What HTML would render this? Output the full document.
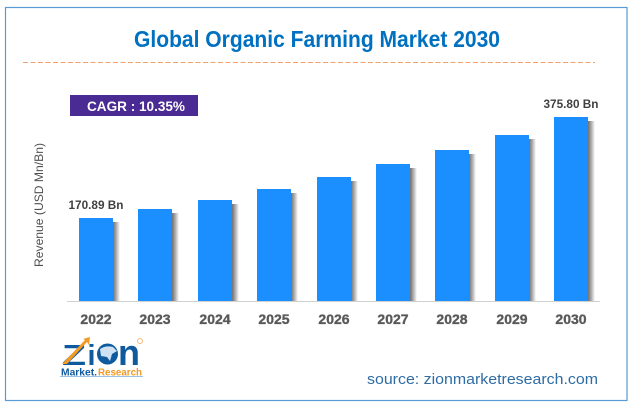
<!DOCTYPE html>
<html lang="en">
<head>
<meta charset="utf-8">
<title>Global Organic Farming Market 2030</title>
<style>
html,body{margin:0;padding:0;background:#fff;width:634px;height:405px;overflow:hidden}
svg{display:block;font-family:"Liberation Sans",sans-serif}
</style>
</head>
<body>
<svg id="chart" width="634" height="405" viewBox="0 0 634 405" xmlns="http://www.w3.org/2000/svg">
  <defs>
    <linearGradient id="shadowGrad" x1="0" x2="1" y1="0" y2="0">
      <stop offset="0" stop-color="#6f6f6f"/>
      <stop offset="0.45" stop-color="#aaaaaa"/>
      <stop offset="1" stop-color="#ffffff"/>
    </linearGradient>
  </defs>
  <rect x="0" y="0" width="634" height="405" fill="#ffffff"/>
  <rect x="5.5" y="7.5" width="621.5" height="393" fill="none" stroke="#5b9bd5" stroke-width="1.2"/>
  <text x="317" y="47" text-anchor="middle" font-size="23" font-weight="700" fill="#0070c0" textLength="366" lengthAdjust="spacingAndGlyphs">Global Organic Farming Market 2030</text>
  <line x1="23" y1="62.5" x2="595" y2="62.5" stroke="#f4a06a" stroke-width="1" stroke-dasharray="5 2.5"/>
  <rect x="70" y="95" width="128" height="21" fill="#4a2a93"/>
  <text x="136" y="111" text-anchor="middle" font-size="14" font-weight="700" fill="#ffffff" textLength="98" lengthAdjust="spacingAndGlyphs">CAGR : 10.35%</text>
  <text transform="translate(43 205) rotate(-90)" text-anchor="middle" font-size="12" fill="#505050" textLength="124" lengthAdjust="spacingAndGlyphs">Revenue (USD Mn/Bn)</text>
  <g id="bars"></g>
  <line x1="67" y1="301.5" x2="600" y2="301.5" stroke="#d0d0d0" stroke-width="1"/>
  <g id="xlabels"></g>
  <g id="values"></g>

  <g>
    <text x="62" y="365" font-size="29" font-weight="700" fill="#0f5a9e" textLength="24" lengthAdjust="spacingAndGlyphs">Z</text>
    <polygon points="62,364 67,364 87,342 89,345 90,337 83,339 85,340" fill="#f39a25"/>
    <text x="87.5" y="365" font-size="29" font-weight="700" fill="#0f5a9e" textLength="8" lengthAdjust="spacingAndGlyphs">i</text>
    <circle cx="107.5" cy="354" r="10.5" fill="#0f5a9e"/>
    <path d="M100 349 q6 -4 13 -2 l4 4 -5 3 -2 7 -3 -4 -6 -1z" fill="#cfe2f3"/>
    <text x="118" y="365" font-size="36" font-weight="700" fill="#0f5a9e" textLength="22" lengthAdjust="spacingAndGlyphs">n</text>
    <circle cx="140" cy="341" r="2.5" fill="none" stroke="#f5b880" stroke-width="1"/>
    <text x="61" y="375.5" font-size="10.5" font-weight="700" fill="#0f5a9e" textLength="36" lengthAdjust="spacingAndGlyphs">Market.</text>
    <text x="98" y="375.5" font-size="10.5" font-weight="700" fill="#f39a25" textLength="44" lengthAdjust="spacingAndGlyphs">Research</text>
    <line x1="60" y1="376.5" x2="143" y2="376.5" stroke="#9cc2e5" stroke-width="1"/>
  </g>

  <text x="367" y="384" font-size="15" fill="#2e6ca4" textLength="231" lengthAdjust="spacingAndGlyphs">source: zionmarketresearch.com</text>

  <script>
    var categories = ['2022','2023','2024','2025','2026','2027','2028','2029','2030'];
    var revenue = [170.89, 189, 206, 230, 253, 280, 309, 339, 375.80];
    var printedValues = ['170.89 Bn', '', '', '', '', '', '', '', '375.80 Bn'];

    var NS = 'http://www.w3.org/2000/svg';
    var plotBottom = 301;
    var pxPerUnit = 0.4885;
    function yScale(v) { return Math.round(plotBottom - v * pxPerUnit); }
    function xScale(i) { return 79 + i * (475 / 8); }
    var barWidth = 34;

    var barsGroup = document.getElementById('bars');
    var labelsGroup = document.getElementById('xlabels');
    var valuesGroup = document.getElementById('values');

    categories.forEach(function (cat, i) {
      var x = Math.round(xScale(i));
      var y = yScale(revenue[i]);

      var shadow = document.createElementNS(NS, 'rect');
      
      
      shadow.setAttribute('x', x + barWidth);
      shadow.setAttribute('y', y + 4);
      shadow.setAttribute('width', 7);
      shadow.setAttribute('height', plotBottom - y - 4);
      shadow.setAttribute('fill', 'url(#shadowGrad)');
      barsGroup.appendChild(shadow);

      var bar = document.createElementNS(NS, 'rect');
      
      
      bar.setAttribute('x', x);
      bar.setAttribute('y', y);
      bar.setAttribute('width', barWidth);
      bar.setAttribute('height', plotBottom - y);
      bar.setAttribute('fill', '#1b8fff');
      barsGroup.appendChild(bar);

      var tick = document.createElementNS(NS, 'text');
      
      
      tick.setAttribute('x', x + barWidth / 2);
      tick.setAttribute('y', 324);
      tick.setAttribute('text-anchor', 'middle');
      tick.setAttribute('font-size', '14');
      tick.setAttribute('font-weight', '700');
      tick.setAttribute('fill', '#595959');
      tick.setAttribute('stroke', '#595959');
      tick.setAttribute('stroke-width', '0.35');
      tick.textContent = cat;
      labelsGroup.appendChild(tick);

      if (printedValues[i]) {
        var val = document.createElementNS(NS, 'text');
        
        
        val.setAttribute('x', x + barWidth / 2);
        val.setAttribute('y', y - 9);
        val.setAttribute('text-anchor', 'middle');
        val.setAttribute('font-size', '11.5');
        val.setAttribute('font-weight', '700');
        val.setAttribute('fill', '#404040');
        val.setAttribute('textLength', '55');
        val.setAttribute('lengthAdjust', 'spacingAndGlyphs');
        val.textContent = printedValues[i];
        valuesGroup.appendChild(val);
      }
    });
  </script>
</svg>
</body>
</html>
